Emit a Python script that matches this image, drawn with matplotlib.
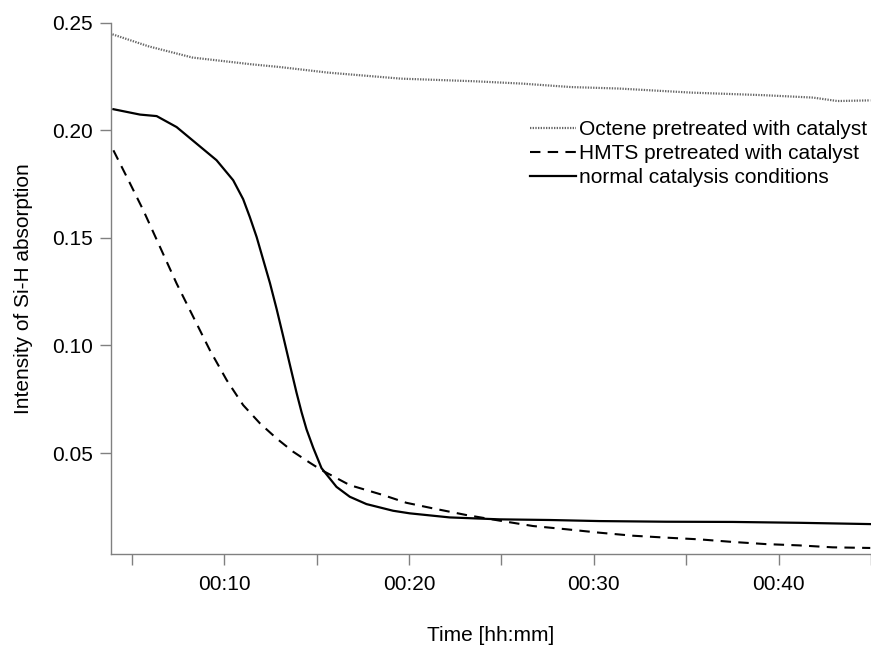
import matplotlib
matplotlib.use("Agg")
import matplotlib.pyplot as plt
from matplotlib.ticker import FuncFormatter

plt.rcParams['font.family'] = ['Liberation Sans', 'DejaVu Sans']

# time in minutes
t_octene = [3.96, 5.92, 8.29, 11.44, 13.01, 15.63, 19.57, 23.50, 26.12, 28.75,
            31.37, 35.31, 39.24, 41.86, 43.18, 44.96]
y_octene = [0.2446, 0.2390, 0.2338, 0.2307, 0.2294, 0.2268, 0.2240, 0.2228, 0.2217, 0.2201,
            0.2194, 0.2175, 0.2163, 0.2152, 0.2136, 0.2139]

t_hmts = [4.01, 4.91, 5.63, 6.53, 7.43, 8.33, 9.23, 10.14, 11.03, 11.94, 12.84, 13.74,
          14.64, 15.27, 16.80, 18.60, 19.86, 21.30, 23.11, 24.91, 26.71, 28.51, 30.31,
          32.11, 33.92, 35.72, 37.52, 39.32, 41.12, 42.92, 44.96]
y_hmts = [0.1907, 0.1753, 0.1628, 0.1458, 0.1288, 0.1133, 0.0978, 0.0839, 0.0723, 0.0638,
          0.0568, 0.0506, 0.0455, 0.0421, 0.0351, 0.0305, 0.0269, 0.0243, 0.0212, 0.0186,
          0.0161, 0.0146, 0.0130, 0.0116, 0.0107, 0.0099, 0.0087, 0.0077, 0.0071, 0.0062,
          0.0059]

t_normal = [4.01, 5.45, 6.35, 7.43, 8.51, 9.59, 10.49, 11.03, 11.39, 11.76, 12.11, 12.48,
            12.84, 13.19, 13.56, 13.92, 14.19, 14.46, 14.82, 15.27, 16.08, 16.80, 17.70,
            19.14, 20.04, 22.2, 24.91, 27.61, 30.31, 33.92, 37.52, 41.12, 44.96]
y_normal = [0.2098, 0.2073, 0.2066, 0.2015, 0.1938, 0.1861, 0.1768, 0.1680, 0.1597, 0.1504,
            0.1400, 0.1290, 0.1170, 0.1045, 0.0910, 0.0780, 0.0690, 0.0610, 0.0525, 0.0430,
            0.0343, 0.0297, 0.0263, 0.0232, 0.0220, 0.0201, 0.0192, 0.0189, 0.0184, 0.0181,
            0.0180, 0.0176, 0.0170]

labels = ['Octene pretreated with catalyst', 'HMTS pretreated with catalyst',
          'normal catalysis conditions']

fig = plt.figure(figsize=(8.71, 6.45), dpi=100)
ax = fig.add_axes([111/871, 1-554/645, 760/871, (554-22.7)/645])

ax.plot(t_octene, y_octene, color='#666666', lw=1.6, ls=(0, (0.6, 0.6)), label=labels[0])
ax.plot(t_hmts, y_hmts, color='black', lw=1.5, dashes=(5, 3.5), label=labels[1])
ax.plot(t_normal, y_normal, color='black', lw=1.6, label=labels[2])

ax.set_xlim(3.88, 44.96)
ax.set_ylim(0.0031, 0.25)
ax.set_xticks([10, 20, 30, 40])
ax.set_xticks([5, 15, 25, 35, 45], minor=True)
ax.set_yticks([0.05, 0.10, 0.15, 0.20, 0.25])
ax.xaxis.set_major_formatter(FuncFormatter(lambda v, p: '00:%02d' % int(round(v))))
ax.yaxis.set_major_formatter(FuncFormatter(lambda v, p: '%.2f' % v))

for s in ['top', 'right']:
    ax.spines[s].set_visible(False)
for s in ['left', 'bottom']:
    ax.spines[s].set_color('#808080')
    ax.spines[s].set_linewidth(1.0)

ax.tick_params(which='both', direction='out', length=8, width=1, color='#808080',
               labelsize=15)
ax.tick_params(axis='x', pad=7)
ax.tick_params(axis='y', pad=5)

ax.set_xlabel('Time [hh:mm]', fontsize=15, labelpad=23)
ax.set_ylabel('Intensity of Si-H absorption', fontsize=15, labelpad=14)

ax.legend(loc='upper left', bbox_to_anchor=(530/871, 1-120/645),
          bbox_transform=fig.transFigure, frameon=False, fontsize=15,
          handlelength=2.2, handletextpad=0.15, labelspacing=0.25,
          borderpad=0, borderaxespad=0)

fig.savefig('out.png', dpi=100)
